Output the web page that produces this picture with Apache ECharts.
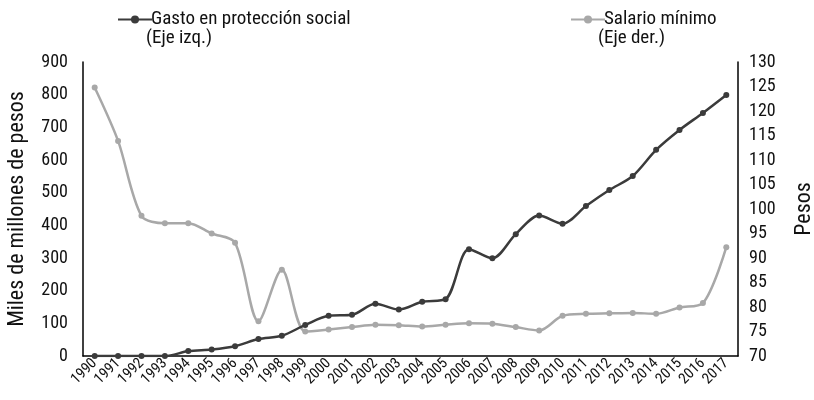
<!DOCTYPE html>
<html><head><meta charset="utf-8">
<script src="https://cdn.jsdelivr.net/npm/echarts@6/dist/echarts.min.js"></script>
<style>html,body{margin:0;padding:0;background:#fff}#c{width:814px;height:400px}</style>
</head><body><div id="c"></div>
<script>
const years = ['1990','1991','1992','1993','1994','1995','1996','1997','1998','1999','2000','2001','2002','2003','2004','2005','2006','2007','2008','2009','2010','2011','2012','2013','2014','2015','2016','2017'];
const gasto = [0,0,0,0,15,20,30,52,62,95,123,126,160,142,166,174,327,299,373,430,405,459,508,551,631,692,744,799];
const salario = [124.8,113.9,98.6,97.1,97.1,95.0,93.1,77.1,87.6,75.0,75.4,75.9,76.4,76.3,76.0,76.4,76.7,76.6,75.9,75.2,78.2,78.6,78.7,78.8,78.6,79.9,80.8,92.2];
const leftTicks = {min:0,max:900,interval:100};
const rightTicks = {min:70,max:130,interval:5};
const F = '"Liberation Sans Narrow","Roboto Condensed","DejaVu Sans Condensed",sans-serif';
const DARK = '#3b3b3b', GRAY = '#a8a8a8', TXT = '#111';
const chart = echarts.init(document.getElementById('c'), null, {renderer:'canvas'});
chart.setOption({
  animation:false,
  textStyle:{fontFamily:F},
  grid:{left:83,right:76,top:62,bottom:44,containLabel:false,outerBoundsMode:'none'},
  legend:[
    {data:['Gasto en protección social'],left:112,top:5,itemWidth:34,itemHeight:10,itemGap:0,
     textStyle:{fontFamily:F,fontSize:19,color:TXT,padding:[0,0,0,-6]}},
    {data:['Salario mínimo'],left:565,top:5,itemWidth:34,itemHeight:10,itemGap:0,
     textStyle:{fontFamily:F,fontSize:19,color:TXT,padding:[0,0,0,-6]}}
  ],
  graphic:[
    {type:'text',left:146,top:29,style:{text:'(Eje izq.)',font:'19px '+F,fill:TXT}},
    {type:'text',left:598,top:29,style:{text:'(Eje der.)',font:'19px '+F,fill:TXT}}
  ],
  xAxis:{type:'category',data:years,boundaryGap:true,
    axisLine:{lineStyle:{color:'#000',width:1.5}},axisTick:{show:false},
    axisLabel:{rotate:45,fontFamily:F,fontSize:15,color:TXT,margin:5,interval:0}},
  yAxis:[
    {type:'value',min:leftTicks.min,max:leftTicks.max,interval:leftTicks.interval,
     name:'Miles de millones de pesos',nameLocation:'middle',nameGap:55,nameRotate:90,
     nameTextStyle:{fontFamily:F,fontSize:22,color:TXT},
     axisLine:{show:true,lineStyle:{color:'#000',width:1.5}},axisTick:{show:false},splitLine:{show:false},
     axisLabel:{fontFamily:F,fontSize:18,color:TXT,margin:15}},
    {type:'value',min:rightTicks.min,max:rightTicks.max,interval:rightTicks.interval,
     name:'Pesos',nameLocation:'middle',nameGap:55,nameRotate:90,
     nameTextStyle:{fontFamily:F,fontSize:22,color:TXT},
     axisLine:{show:true,lineStyle:{color:'#000',width:1.5}},axisTick:{show:false},splitLine:{show:false},
     axisLabel:{fontFamily:F,fontSize:18,color:TXT,margin:11}}
  ],
  series:[
    {name:'Gasto en protección social',type:'line',yAxisIndex:0,data:gasto,smooth:0.3,
     symbol:'circle',symbolSize:6,lineStyle:{color:DARK,width:2.5},itemStyle:{color:DARK},z:3},
    {name:'Salario mínimo',type:'line',yAxisIndex:1,data:salario,smooth:0.3,
     symbol:'circle',symbolSize:6,lineStyle:{color:GRAY,width:2.5},itemStyle:{color:GRAY},z:2}
  ]
});
</script></body></html>
